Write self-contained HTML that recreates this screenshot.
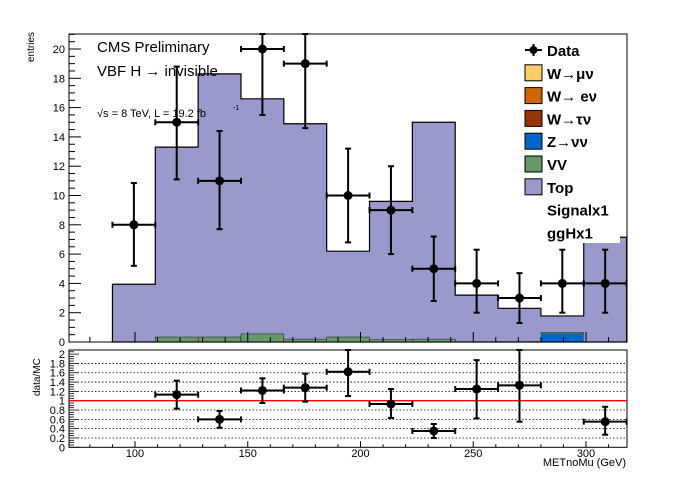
<!DOCTYPE html>
<html><head><meta charset="utf-8"><style>
body{margin:0;background:#fff}
svg text{font-family:"Liberation Sans",sans-serif}
</style></head><body>
<svg id="c" width="696" height="472" xmlns="http://www.w3.org/2000/svg"></svg>
<script>
const binEdges=[90,109,128,147,166,185,204,223,242,261,280,299,318];
const topTotal=[3.94,13.3,18.3,16.6,14.9,6.2,9.6,15.0,3.2,2.3,1.78,7.15];
const vvVals=[0,0.34,0.34,0.55,0.2,0.34,0.15,0.2,0,0,0.1,0];
const zvvVals=[0,0,0,0,0,0,0,0,0,0,0.55,0];
const dataVals=[8,15,11,20,19,10,9,5,4,3,4,4];
const dataUp=[10.85,18.8,14.4,22,22,13.2,12,7.2,6.3,4.7,6.3,6.3];
const dataDn=[5.2,11.1,7.7,15.5,14.6,6.8,6,2.8,2,1.3,2,2];
const ratioVals=[null,1.13,0.6,1.22,1.28,1.62,0.93,0.35,1.25,1.33,null,0.55];
const ratioUp=[null,1.43,0.78,1.48,1.58,2.1,1.25,0.5,1.87,2.1,null,0.87];
const ratioDn=[null,0.83,0.42,0.95,0.98,1.1,0.63,0.2,0.62,0.55,null,0.27];
const yTicks=[0,2,4,6,8,10,12,14,16,18,20];
const xTicks=[100,150,200,250,300];
const rTicks=[0,0.2,0.4,0.6,0.8,1,1.2,1.4,1.6,1.8,2];
const legendItems=[["Data",null],["W\u2192\u03bc\u03bd","#ffcc66"],["W\u2192 e\u03bd","#cc6600"],["W\u2192\u03c4\u03bd","#993300"],["Z\u2192\u03bd\u03bd","#0066cc"],["VV","#669966"],["Top","#9999cc"],["Signalx1",""],["ggHx1",""]];

const S=document.getElementById('c'),NS="http://www.w3.org/2000/svg";
function el(t,a,p){const e=document.createElementNS(NS,t);for(const k in a)e.setAttribute(k,a[k]);(p||S).appendChild(e);return e;}
const L=69,R=627,T=34,B=342,RT=350,RB=447.3;
const X=v=>135+(v-100)*2.255;
const Y=v=>342-14.65*v;
const RY=v=>RB-46.6*v;

const gTop=el('g',{});
let d='M'+X(binEdges[0])+','+B;
topTotal.forEach((v,i)=>{d+=' L'+X(binEdges[i])+','+Y(v)+' L'+X(binEdges[i+1])+','+Y(v);});
d+=' L'+X(binEdges[12])+','+B+'Z';
el('path',{d:d,fill:'#9999cc',stroke:'#000','stroke-width':1.2},gTop);
vvVals.forEach((v,i)=>{if(v>0){const r=el('rect',{x:X(binEdges[i]),y:Y(v+zvvVals[i]),width:X(binEdges[i+1])-X(binEdges[i]),height:Y(0)-Y(v),fill:'#669966',stroke:'#000','stroke-width':0.4});}});
zvvVals.forEach((v,i)=>{if(v>0){const r=el('rect',{x:X(binEdges[i]),y:Y(v),width:X(binEdges[i+1])-X(binEdges[i]),height:Y(0)-Y(v),fill:'#0066cc'});}});
el('rect',{x:583,y:236,width:37,height:7,fill:'#fff'});

el('rect',{x:L,y:T,width:R-L,height:B-T,fill:'none',stroke:'#000','stroke-width':1});
el('rect',{x:L,y:RT,width:R-L,height:RB-RT,fill:'none',stroke:'#000','stroke-width':1});

for(let v=0;v<=21;v+=0.5){const big=v%2===0;el('line',{x1:L,x2:L+(big?12:6),y1:Y(v),y2:Y(v),stroke:'#000'});}
yTicks.forEach(v=>{const t=el('text',{x:L-4,y:Y(v)+4,'text-anchor':'end','font-size':11});t.textContent=v;});
const yt=el('text',{x:0,y:0,transform:'translate(34,62) rotate(-90)','font-size':10});yt.textContent='entries';
for(let v=80;v<=318;v+=10){const big=v%50===0;
el('line',{x1:X(v),x2:X(v),y1:B,y2:B-(big?10:5),stroke:'#000'});
el('line',{x1:X(v),x2:X(v),y1:RB,y2:RB-(big?6:3),stroke:'#000'});}
xTicks.forEach(v=>{const t=el('text',{x:X(v),y:457,'text-anchor':'middle','font-size':11});t.textContent=v;});
const xt=el('text',{x:626,y:466,'text-anchor':'end','font-size':11});xt.textContent='METnoMu (GeV)';

for(let v=0;v<=2.06;v+=0.05){const big=Math.abs(v*5-Math.round(v*5))<1e-6;el('line',{x1:L,x2:L+(big?10:5),y1:RY(v),y2:RY(v),stroke:'#000','stroke-width':0.8});}
rTicks.forEach(v=>{const t=el('text',{x:L-4,y:RY(v)+4,'text-anchor':'end','font-size':11});t.textContent=v;
if(v>0&&v<2&&v!==1)el('line',{x1:L+12,x2:R,y1:RY(v),y2:RY(v),stroke:'#000','stroke-dasharray':'1.5,2','stroke-width':0.8});});
const rl=el('line',{x1:L,x2:R,y1:RY(1),y2:RY(1),stroke:'#ff0000','stroke-width':1.3});
const rtit=el('text',{x:0,y:0,transform:'translate(40,396) rotate(-90)','font-size':10});rtit.textContent='data/MC';

function pt(cx,cy,x1,x2,yu,yd,name){const g=el('g',{});
el('line',{x1:x1,x2:x2,y1:cy,y2:cy,stroke:'#000','stroke-width':2},g);
el('line',{x1:cx,x2:cx,y1:yu,y2:yd,stroke:'#000','stroke-width':2},g);
[x1,x2].forEach(x=>el('line',{x1:x,x2:x,y1:cy-3,y2:cy+3,stroke:'#000','stroke-width':2},g));
[yu,yd].forEach(y=>el('line',{x1:cx-3,x2:cx+3,y1:y,y2:y,stroke:'#000','stroke-width':2},g));
el('circle',{cx:cx,cy:cy,r:4.5,fill:'#000'},g);}
dataVals.forEach((v,i)=>{const x1=X(binEdges[i]),x2=X(binEdges[i+1]);pt((x1+x2)/2,Y(v),x1,x2,Math.max(T,Y(dataUp[i])),Y(dataDn[i]),'data-point');});
ratioVals.forEach((v,i)=>{if(v===null)return;const x1=X(binEdges[i]),x2=X(binEdges[i+1]);pt((x1+x2)/2,RY(v),x1,x2,Math.max(RT,RY(ratioUp[i])),RY(ratioDn[i]),'ratio-point');});

const t1=el('text',{x:97,y:52,'font-size':15});t1.textContent='CMS Preliminary';
const t2=el('text',{x:97,y:76,'font-size':15});t2.textContent='VBF H \u2192 invisible';
const t3=el('text',{x:97,y:117,'font-size':11});t3.textContent='\u221As = 8 TeV, L = 19.2 fb';
const t4=el('text',{x:233,y:110,'font-size':7});t4.textContent='-1';

legendItems.forEach((it,i)=>{const y=50+i*22.8;const g=el('g',{});
if(it[1]===null){el('line',{x1:525,x2:542,y1:y,y2:y,stroke:'#000','stroke-width':2},g);el('line',{x1:533.5,x2:533.5,y1:y-6,y2:y+6,stroke:'#000','stroke-width':2},g);el('circle',{cx:533.5,cy:y,r:4,fill:'#000'},g);}
else if(it[1]){el('rect',{x:525,y:y-8,width:17,height:16,fill:it[1],stroke:'#000','stroke-width':1},g);}
const t=el('text',{x:547,y:y+6,'font-size':15,'font-weight':'bold'},g);t.textContent=it[0];});
</script>
</body></html>
